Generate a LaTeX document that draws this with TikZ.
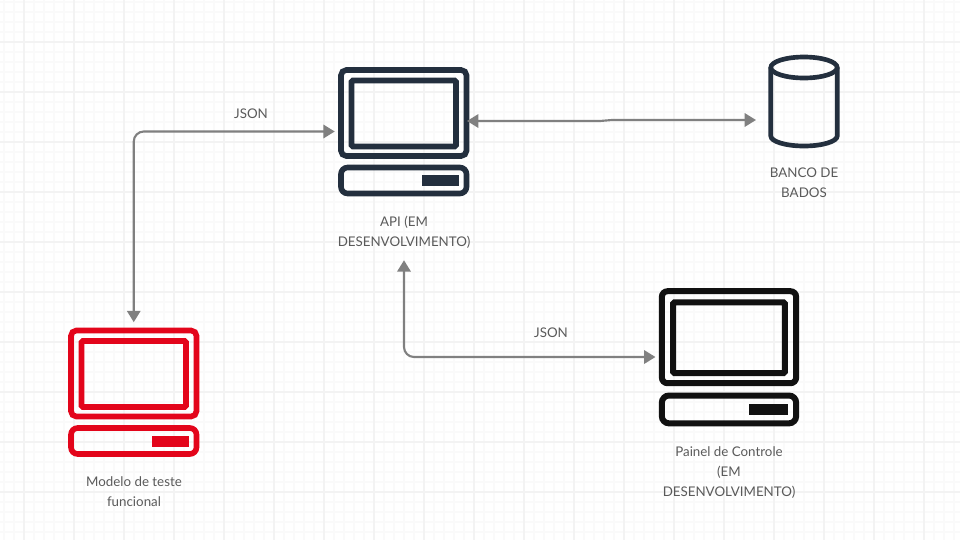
\documentclass[tikz,border=0pt]{standalone}
\usepackage{fontspec}
\setmainfont{Lato}
\usepackage{tikz}
\usetikzlibrary{calc}
\usetikzlibrary{arrows.meta}
\definecolor{apicol}{HTML}{232F3E}
\definecolor{modelcol}{HTML}{E3051B}
\definecolor{panelcol}{HTML}{111111}
\definecolor{linecol}{HTML}{808080}
\definecolor{textcol}{HTML}{5A5A5A}
\definecolor{gridmajor}{HTML}{F3F3F3}
\definecolor{gridminor}{HTML}{FAFAFA}
\tikzset{
  conn/.style={draw=linecol, line width=1.6pt, rounded corners=7.5pt, {Triangle[length=8.5pt,width=10pt]}-{Triangle[length=8.5pt,width=10pt]}},
  lbl/.style={text=textcol, font=\fontsize{10pt}{15pt}\selectfont, align=center, inner sep=0pt},
  box/.style={minimum width=#1*97.5pt, minimum height=#1*96.75pt, inner sep=0pt, outer sep=0pt}
}
% name, x, y, colour, size
\newcommand{\computer}[5]{
  \node[box=#5] (#1) at (#2,#3) {};
  \begin{scope}[shift={(#2,#3)}, scale=#5, draw=#4, line width=#5*4.2pt]
    \draw[rounded corners=#5*4pt] (-62.75,-61.5) rectangle (62.75,24.5);
    \draw[rounded corners=#5*1pt] (-52.25,-51) rectangle (52.25,15);
    \draw[rounded corners=#5*5pt] (-62.75,36) rectangle (62.75,62);
    \fill[#4] (18.5,43.5) rectangle (55.5,54.5);
  \end{scope}
}
\begin{document}
\begin{tikzpicture}[x=0.75pt, y=-0.75pt]
  \useasboundingbox (0,0) rectangle (960,540);
  \fill[white] (0,0) rectangle (960,540);
  % grid
  \foreach \gx in {4,14,...,954} \draw[gridminor, line width=1pt] (\gx,0) -- (\gx,540);
  \foreach \gy in {2,12,...,532} \draw[gridminor, line width=1pt] (0,\gy) -- (960,\gy);
  \foreach \gx in {24,74,...,924} \draw[gridmajor, line width=1pt] (\gx,0) -- (\gx,540);
  \foreach \gy in {42,92,...,492} \draw[gridmajor, line width=1pt] (0,\gy) -- (960,\gy);
  % computers
  \computer{api}{403.75}{131.5}{apicol}{1}
  \computer{modelo}{133.75}{392}{modelcol}{1}
  \computer{painel}{729}{357}{panelcol}{1.07}
  % database
  \node[minimum width=52.5pt, minimum height=69pt, inner sep=0pt] (banco) at (804,102) {};
  \begin{scope}[draw=apicol, line width=3.5pt]
    \draw (804,67.5) ellipse [x radius=33.2, y radius=10.5];
    \draw (770.8,67.5) -- (770.8,136) arc [start angle=180, end angle=0, x radius=33.2, y radius=10] -- (837.2,67.5);
  \end{scope}
  % labels
  \node[lbl] (apitxt) at (404,232.5) {API (EM\\DESENVOLVIMENTO)};
  \node[lbl] (bancotxt) at (804,182.5) {BANCO DE\\BADOS};
  \node[lbl] (modelotxt) at (134,492) {Modelo de teste\\funcional};
  \node[lbl] (paineltxt) at (729,473) {Painel de Controle\\ (EM\\DESENVOLVIMENTO)};
  \node[lbl] (json1) at (251,113.5) {JSON};
  \node[lbl] (json2) at (551,333) {JSON};
  % connectors
  \coordinate (apir) at (467,121);
  \coordinate (bancol) at (756,120);
  \draw[conn] ([yshift=4pt]modelo.north) |- ([xshift=-3pt]api.west);
  \draw[conn, rounded corners=0pt] (apir) -- (600,121) -- (612,120) -- (bancol);
  \draw[conn] ([yshift=-8.5pt]apitxt.south) |- ([xshift=-3pt]painel.west);
\end{tikzpicture}
\end{document}
